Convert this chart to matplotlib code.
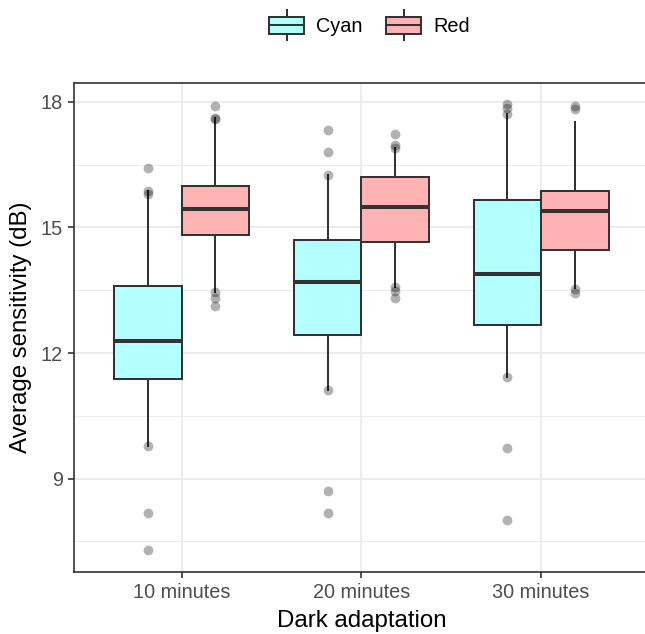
import matplotlib
matplotlib.use("Agg")
import matplotlib.pyplot as plt
from matplotlib.legend_handler import HandlerBase
from matplotlib.patches import Rectangle
from matplotlib.lines import Line2D

plt.rcParams['font.family'] = ['Liberation Sans', 'DejaVu Sans']

categories = ["10 minutes", "20 minutes", "30 minutes"]
groups = ["Cyan", "Red"]

cyan_whislo = [9.77, 11.12, 11.42]
cyan_q1 = [11.38, 12.44, 12.68]
cyan_med = [12.29, 13.70, 13.90]
cyan_q3 = [13.61, 14.69, 15.66]
cyan_whishi = [15.86, 16.26, 17.71]
cyan_points = [[16.43, 15.86, 15.80, 9.77, 8.19, 7.30],
               [17.33, 16.81, 16.26, 11.12, 8.71, 8.19],
               [17.95, 17.85, 17.71, 11.42, 9.73, 8.02]]

red_whislo = [13.45, 13.57, 13.56]
red_q1 = [14.81, 14.65, 14.46]
red_med = [15.45, 15.50, 15.40]
red_q3 = [15.99, 16.20, 15.87]
red_whishi = [17.61, 16.91, 17.53]
red_points = [[17.90, 17.61, 17.58, 13.45, 13.31, 13.13],
              [17.24, 16.96, 16.91, 13.57, 13.49, 13.31],
              [17.89, 17.83, 13.53, 13.43]]

fills = {"Cyan": "#B3FFFF", "Red": "#FFB3B3"}
edge = "#333333"

fig = plt.figure(figsize=(6.45, 6.34), dpi=100)
ax = fig.add_axes([0.1147, 0.0978, 0.8915, 0.7712])

data = {
    "Cyan": (cyan_whislo, cyan_q1, cyan_med, cyan_q3, cyan_whishi, cyan_points),
    "Red": (red_whislo, red_q1, red_med, red_q3, red_whishi, red_points),
}
offsets = {"Cyan": -0.1875, "Red": 0.1875}

for g in groups:
    wl, q1, md, q3, wh, pts = data[g]
    stats = []
    for i in range(len(categories)):
        stats.append(dict(whislo=wl[i], q1=q1[i], med=md[i], q3=q3[i],
                          whishi=wh[i], fliers=[]))
    pos = [i + 1 + offsets[g] for i in range(len(categories))]
    ax.bxp(stats, positions=pos, widths=0.375, patch_artist=True,
           showcaps=False, showfliers=False,
           boxprops=dict(facecolor=fills[g], edgecolor=edge, linewidth=1.45),
           whiskerprops=dict(color=edge, linewidth=1.45),
           medianprops=dict(color=edge, linewidth=2.9, solid_capstyle='butt'),
           manage_ticks=False, zorder=3)
    for i, p in enumerate(pts):
        ax.scatter([pos[i]] * len(p), p, s=50, color='black', alpha=0.3,
                   linewidths=0, zorder=4)

ax.set_xlim(0.4, 3.6)
ax.set_ylim(6.77, 18.45)
ax.set_xticks([1, 2, 3])
ax.set_xticklabels(categories)
ax.set_yticks([9, 12, 15, 18])
ax.set_yticks([7.5, 10.5, 13.5, 16.5], minor=True)
ax.grid(True, which='major', color='#EBEBEB', linewidth=1.3, zorder=0)
ax.grid(True, which='minor', axis='y', color='#EBEBEB', linewidth=0.7, zorder=0)
ax.set_axisbelow(True)
ax.tick_params(axis='both', which='major', labelsize=14.3, colors='#333333',
               labelcolor='#4D4D4D', length=4, width=1.2, pad=4)
ax.tick_params(axis='y', which='minor', length=0)
for s in ax.spines.values():
    s.set_color('#333333')
    s.set_linewidth(1.2)
ax.spines['right'].set_visible(False)

ax.set_xlabel("Dark adaptation", fontsize=17.3, color='black', labelpad=6)
ax.set_ylabel("Average sensitivity (dB)", fontsize=17.3, color='black', labelpad=6)


class BoxHandler(HandlerBase):
    def __init__(self, fc):
        super().__init__()
        self.fc = fc

    def create_artists(self, legend, orig_handle, xdescent, ydescent, width,
                       height, fontsize, trans):
        cx = width / 2 - xdescent
        h = height
        r = Rectangle((-xdescent, -ydescent), width, h,
                      facecolor=self.fc, edgecolor=edge, linewidth=1.45,
                      transform=trans)
        m = Line2D([-xdescent, -xdescent + width], [-ydescent + h / 2] * 2,
                   color=edge, linewidth=1.45, transform=trans)
        w1 = Line2D([cx, cx], [-ydescent + h, -ydescent + h * 1.4],
                    color=edge, linewidth=1.45, transform=trans)
        w2 = Line2D([cx, cx], [-ydescent, -ydescent - h * 0.4],
                    color=edge, linewidth=1.45, transform=trans)
        return [w1, w2, r, m]


handles = [Rectangle((0, 0), 1, 1) for _ in groups]
hmap = {handles[0]: BoxHandler(fills["Cyan"]), handles[1]: BoxHandler(fills["Red"])}
fig.legend(handles, groups, handler_map=hmap, loc='center',
           bbox_to_anchor=(0.573, 0.958), ncol=2, frameon=False,
           fontsize=14.3, handlelength=1.75, handleheight=0.9,
           handletextpad=0.6, columnspacing=1.2)

fig.savefig("out.png", dpi=100, facecolor='white')
